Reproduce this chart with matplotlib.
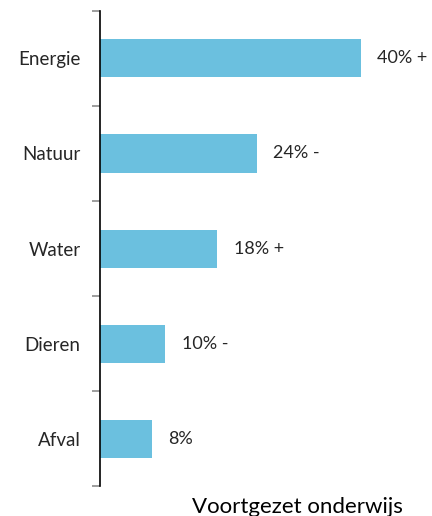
import numpy as np
import matplotlib.pyplot as plt

# data
categories = ["Energie", "Natuur", "Water", "Dieren", "Afval"]
values = [40, 24, 18, 10, 8]
trends = ["+", "-", "+", "-", ""]

BAR_COLOR = "#6BC0DF"
TEXT_COLOR = "#262626"

plt.rcParams['font.family'] = ['Lato', 'DejaVu Sans']

fig = plt.figure(figsize=(4.32, 5.16), dpi=100)
ax = fig.add_axes([0.2315, 0.0581, 0.755, 0.9206])

y = np.arange(len(categories))
ax.barh(y, values, height=0.4, color=BAR_COLOR)

# value labels next to the bars
for yi, v, t in zip(y, values, trends):
    label = f"{v}%" + (f" {t}" if t else "")
    ax.text(v + 2.5, yi, label, va='center', ha='left', fontsize=13, color=TEXT_COLOR)

ax.set_ylim(len(categories) - 0.5, -0.5)
ax.set_xlim(0, 50)

ax.set_yticks(y)
ax.set_yticklabels(categories, fontsize=13.5, color=TEXT_COLOR)
ax.tick_params(axis='y', which='major', length=0, pad=14)
ax.set_yticks(np.arange(-0.5, len(categories)), minor=True)
ax.tick_params(axis='y', which='minor', length=6, width=1.2, color='#8c8c8c')

ax.set_xticks([])
for side in ['top', 'right', 'bottom']:
    ax.spines[side].set_visible(False)
ax.spines['left'].set_linewidth(1.2)
ax.spines['left'].set_color('black')

fig.text(0.688, 0.006, "Voortgezet onderwijs", ha='center', va='baseline',
         fontsize=16, color='black')

fig.savefig("out.png", dpi=100)
